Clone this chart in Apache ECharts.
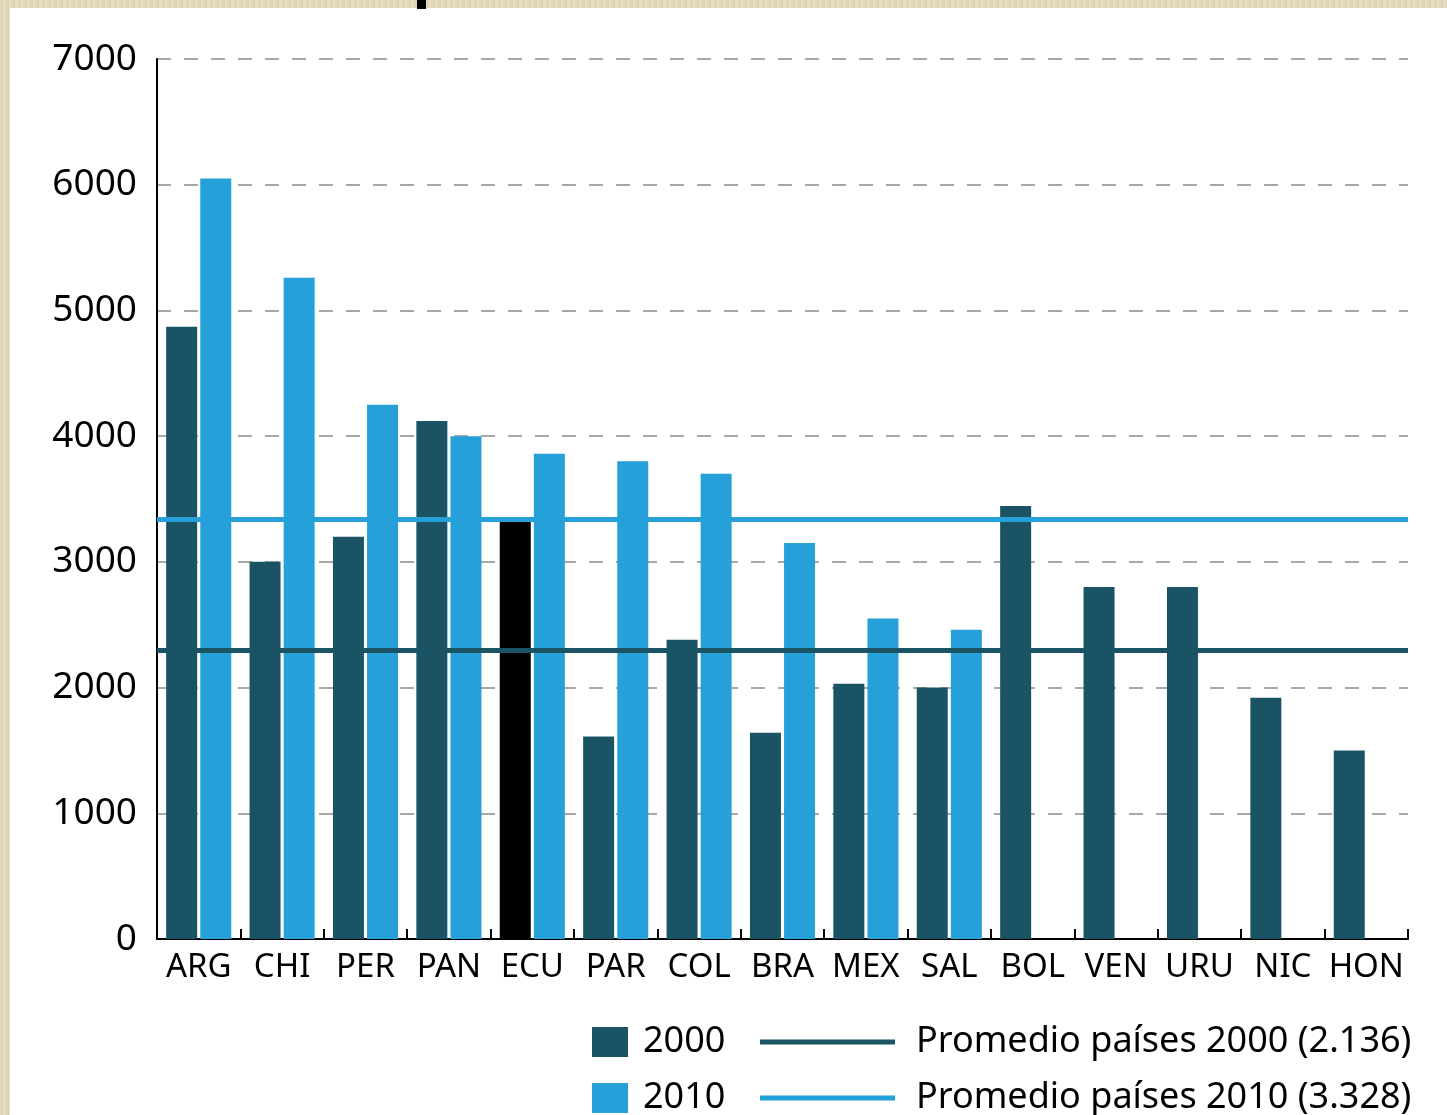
<!DOCTYPE html>
<html>
<head>
<meta charset="utf-8">
<script src="https://cdn.jsdelivr.net/npm/echarts@6/dist/echarts.min.js"></script>
<style>
html,body{margin:0;padding:0;width:1447px;height:1115px;overflow:hidden;background:#e4d8bd;}
#wrap{position:absolute;left:0;top:0;width:1447px;height:1115px;
 background:repeating-linear-gradient(90deg,#e9dfc7 0px,#d9cba9 2px,#eee6d2 4px,#ddd0b0 6px);}
#chart{position:absolute;left:10px;top:8px;width:1437px;height:1107px;background:#ffffff;}
#mark{position:absolute;left:417px;top:0;width:9px;height:9px;background:#000;}
</style>
</head>
<body>
<div id="wrap"></div>
<div id="chart"></div>
<div id="mark"></div>
<script>
const categories = ['ARG','CHI','PER','PAN','ECU','PAR','COL','BRA','MEX','SAL','BOL','VEN','URU','NIC','HON'];
const values2000 = [4870, 3000, 3200, 4120, 3320, 1610, 2380, 1640, 2030, 2000, 3445, 2800, 2800, 1920, 1500];
const values2010 = [6050, 5260, 4250, 4000, 3860, 3800, 3700, 3150, 2550, 2460, null, null, null, null, null];
const avg2000 = 2300;
const avg2010 = 3340;
const yTicks = [0, 1000, 2000, 3000, 4000, 5000, 6000, 7000];
const highlightCategory = 'ECU';

const DARK = '#1a5464';
const LIGHT = '#26a0d8';
const FONT = '"Noto Sans", "Open Sans", sans-serif';

const chart = echarts.init(document.getElementById('chart'), null, {renderer: 'canvas'});

const bar2000Data = values2000.map((v, i) =>
  categories[i] === highlightCategory ? {value: v, itemStyle: {color: '#000000'}} : v);

const option = {
  animation: false,
  grid: {left: 147, top: 51, width: 1251, height: 880, containLabel: false},
  xAxis: {
    type: 'category',
    data: categories,
    axisLine: {show: true, lineStyle: {color: '#000', width: 2}},
    axisTick: {show: true, inside: true, length: 10, interval: 0, lineStyle: {color: '#000', width: 2}},
    axisLabel: {color: '#000', fontSize: 33, fontFamily: FONT, margin: 12, interval: 0, lineHeight: 34}
  },
  yAxis: {
    type: 'value',
    min: yTicks[0],
    max: yTicks[yTicks.length - 1],
    interval: 1000,
    axisLine: {show: true, lineStyle: {color: '#000', width: 2}},
    axisTick: {show: false},
    axisLabel: {color: '#000', fontSize: 37, fontFamily: FONT, margin: 20, padding: [4, 0, 0, 0], formatter: v => String(v)},
    splitLine: {show: true, lineStyle: {color: '#a8a8a8', width: 2, type: [14, 13]}}
  },
  legend: [
    {
      data: ['2000', '2010'],
      orient: 'vertical',
      left: 582, top: 1016, width: 200, height: 200,
      padding: 0,
      itemWidth: 36, itemHeight: 30, itemGap: 20,
      icon: 'rect',
      textStyle: {color: '#000', fontSize: 36, fontFamily: FONT, lineHeight: 30, padding: [0, 0, 0, 10]}
    },
    {
      data: ['Promedio países 2000 (2.136)', 'Promedio países 2010 (3.328)'],
      orient: 'vertical',
      left: 750, top: 1016, width: 700, height: 200,
      padding: 0,
      itemWidth: 135, itemHeight: 5, itemGap: 20,
      icon: 'rect',
      textStyle: {color: '#000', fontSize: 36, fontFamily: FONT, lineHeight: 30, padding: [0, 0, 0, 16]}
    }
  ],
  series: [
    {
      name: '2000', type: 'bar', data: bar2000Data,
      barWidth: 31, barGap: '10%', barCategoryGap: '22%',
      itemStyle: {color: DARK}
    },
    {
      name: '2010', type: 'bar', data: values2010,
      barWidth: 31, barGap: '10%', barCategoryGap: '22%',
      itemStyle: {color: LIGHT}
    },
    {
      name: 'Promedio países 2000 (2.136)', type: 'line', data: [],
      color: DARK, itemStyle: {color: DARK}, lineStyle: {color: DARK},
      z: 5,
      markLine: {
        silent: true, symbol: 'none', label: {show: false},
        lineStyle: {color: DARK, width: 5, type: 'solid'},
        data: [{yAxis: avg2000}]
      }
    },
    {
      name: 'Promedio países 2010 (3.328)', type: 'line', data: [],
      color: LIGHT, itemStyle: {color: LIGHT}, lineStyle: {color: LIGHT},
      z: 5,
      markLine: {
        silent: true, symbol: 'none', label: {show: false},
        lineStyle: {color: LIGHT, width: 5, type: 'solid'},
        data: [{yAxis: avg2010}]
      }
    }
  ]
};
chart.setOption(option);
</script>
</body>
</html>
